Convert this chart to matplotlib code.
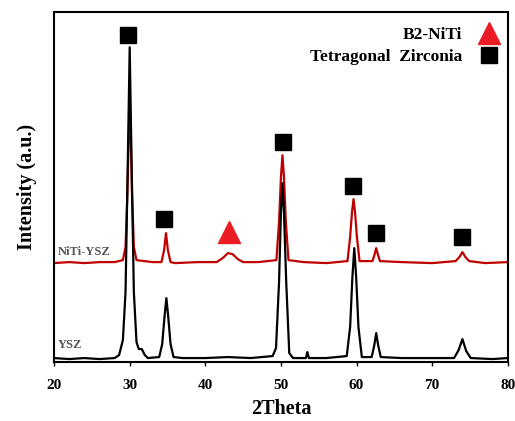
import matplotlib
matplotlib.use("Agg")
import matplotlib.pyplot as plt
from matplotlib.lines import Line2D

plt.rcParams['font.family'] = ['Liberation Serif', 'DejaVu Serif']
plt.rcParams['font.weight'] = 'bold'

# Patrones XRD (2Theta, intensidad en unidades arbitrarias)
ysz_2theta = [20, 22, 24, 26, 28.0, 28.6, 29.1, 29.45, 29.75, 30.0, 30.25, 30.55, 30.9, 31.2, 31.6, 32.0, 32.4,
              33.9, 34.3, 34.6, 34.85, 35.1, 35.4, 35.8, 37, 40, 43, 46, 48.9, 49.35, 49.75, 50.0, 50.2,
              50.4, 50.7, 51.1, 51.6, 53.3, 53.5, 53.7, 56, 58.7, 59.15, 59.45, 59.7, 59.95, 60.25, 60.7,
              62.0, 62.35, 62.6, 62.85, 63.2, 66, 70, 72.9, 73.5, 74.0, 74.5, 75.1, 78, 80]
ysz_int = [4, 3, 4, 3, 4, 7, 22, 70, 200, 315, 200, 70, 20, 13, 13, 7, 4,
           5, 18, 45, 64, 45, 18, 5, 4, 4, 5, 4, 6, 14, 80, 150, 179,
           150, 80, 9, 4, 4, 10, 4, 4, 6, 35, 85, 114, 85, 35, 5,
           5, 17, 29, 17, 5, 4, 4, 4, 12, 23, 11, 4, 3, 4]

niti_2theta = [20, 22, 24, 26, 28, 29.1, 29.45, 29.7, 29.85, 30.0, 30.15, 30.3, 30.55, 30.9, 33, 34.2, 34.55,
               34.8, 35.05, 35.4, 36, 39, 41.5, 42.3, 43.0, 43.6, 44.3, 45, 47, 49.4, 49.75, 50.0, 50.2,
               50.4, 50.65, 51.0, 53, 56, 58.8, 59.15, 59.4, 59.6, 59.8, 60.05, 60.4, 62.1, 62.4, 62.6,
               62.8, 63.1, 66, 70, 73.1, 73.6, 74.0, 74.4, 74.9, 77, 80]
niti_int = [99, 100, 99, 100, 100, 102, 115, 170, 220, 247, 220, 170, 115, 102, 100, 100, 112,
            129, 112, 100, 99, 100, 100, 104, 109, 108, 103, 100, 100, 102, 140, 185, 207,
            185, 140, 102, 100, 99, 101, 125, 150, 163, 150, 125, 101, 101, 108, 114,
            108, 101, 100, 99, 101, 105, 110, 105, 101, 99, 100]

# Marcadores de fases
zirconia_x = [29.8, 34.6, 50.3, 59.5, 62.6, 73.9]
zirconia_y = [327, 143, 220, 176, 129, 125]
niti_x = [43.1]
niti_y = [130]

fig = plt.figure(figsize=(5.15, 4.21), dpi=100)
ax = fig.add_axes([0.105, 0.140, 0.881, 0.831])

ax.plot(niti_2theta, niti_int, color='#c00000', linewidth=1.6, zorder=2)
ax.plot(ysz_2theta, ysz_int, color='black', linewidth=1.6, zorder=3)

ax.plot(zirconia_x, zirconia_y, 's', color='black', markersize=11.5, zorder=4)
ax.plot(niti_x, niti_y, '^', color='#ec1c24', markersize=16, zorder=4)

ax.text(20.5, 110, 'NiTi-YSZ', color='#555555', fontsize=9, ha='left', va='center')
ax.text(20.5, 17, 'YSZ', color='#555555', fontsize=9, ha='left', va='center')

handles = [Line2D([], [], marker='^', color='#ec1c24', linestyle='none', markersize=16),
           Line2D([], [], marker='s', color='black', linestyle='none', markersize=11)]
leg = ax.legend(handles, ['B2-NiTi', 'Tetragonal  Zirconia'], loc='upper right',
                bbox_to_anchor=(1.008, 0.992), frameon=False,
                markerfirst=False, fontsize=12.5, handlelength=1.2, handletextpad=0.95,
                labelspacing=0.3, borderaxespad=0.15, borderpad=0.55)
for t in leg.get_texts():
    t.set_ha('right')

ax.set_xlim(20, 80)
ax.set_ylim(0, 350)
ax.set_xticks(range(20, 81, 10))
ax.set_yticks([])
ax.tick_params(axis='x', direction='out', length=3, width=1, labelsize=11, pad=9)
for s in ax.spines.values():
    s.set_linewidth(1.5)

ax.set_xlabel('2Theta', fontsize=14.5, fontweight='bold', labelpad=5)
ax.set_ylabel('Intensity (a.u.)', fontsize=14.5, fontweight='bold', labelpad=12)

fig.savefig('out.png', dpi=100)
